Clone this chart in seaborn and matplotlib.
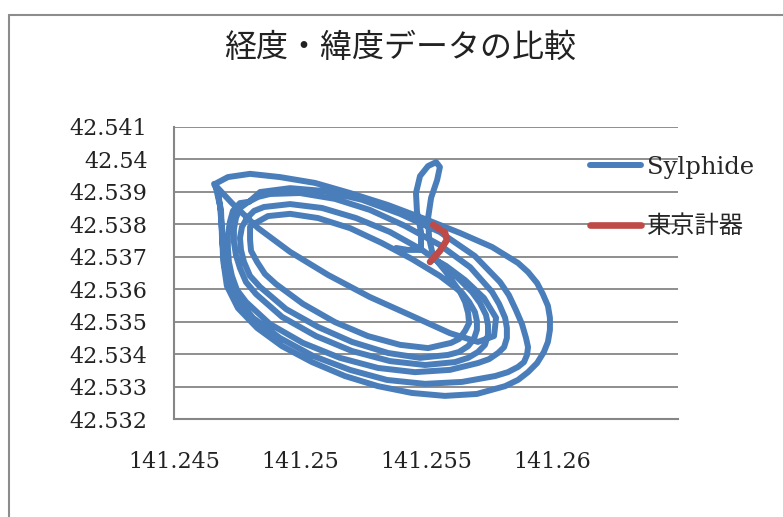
import matplotlib
matplotlib.use("Agg")
import matplotlib.pyplot as plt
from matplotlib.lines import Line2D
import seaborn as sns
import pandas as pd

# GPS track logged by Sylphide (longitude / latitude, in logging order)
sylphide_lon = [
    # start and the narrow excursion to the north
    141.25382, 141.25429, 141.25481, 141.25481, 141.25465, 141.25461, 141.25477, 141.25509,
    141.25541, 141.25556, 141.25545, 141.25521, 141.25509, 141.25513, 141.25529,
    # first lap
    141.25580, 141.25636, 141.25656, 141.25668, 141.25672, 141.25656, 141.25632, 141.25600,
    141.25509, 141.25398, 141.25270, 141.25139, 141.25012, 141.24905, 141.24861, 141.24830,
    141.24806, 141.24802, 141.24802, 141.24818, 141.24873, 141.24961, 141.25072, 141.25199,
    141.25326, 141.25445, 141.25556,
    # second lap
    141.25644, 141.25672, 141.25695, 141.25703, 141.25703, 141.25691, 141.25668, 141.25632,
    141.25588, 141.25477, 141.25350, 141.25207, 141.25072, 141.24945, 141.24842, 141.24802,
    141.24778, 141.24766, 141.24762, 141.24770, 141.24790, 141.24818, 141.24857, 141.24961,
    141.25088, 141.25223, 141.25358, 141.25485, 141.25596,
    # third lap
    141.25683, 141.25715, 141.25739, 141.25747, 141.25747, 141.25735, 141.25707, 141.25668,
    141.25616, 141.25497, 141.25358, 141.25207, 141.25064, 141.24929, 141.24826, 141.24786,
    141.24762, 141.24746, 141.24738, 141.24738, 141.24746, 141.24762, 141.24794, 141.24834,
    141.24881, 141.25000, 141.25139, 141.25278, 141.25417, 141.25556, 141.25676,
    # fourth lap
    141.25763, 141.25791, 141.25815, 141.25822, 141.25822, 141.25811, 141.25787, 141.25751,
    141.25707, 141.25596, 141.25457, 141.25310, 141.25159, 141.25012, 141.24881, 141.24786,
    141.24750, 141.24730, 141.24718, 141.24714, 141.24714, 141.24722, 141.24734, 141.24762,
    141.24798, 141.24842, 141.24961, 141.25100, 141.25247, 141.25398, 141.25556, 141.25695,
    # fifth lap
    141.25795, 141.25830, 141.25858, 141.25882, 141.25898, 141.25906, 141.25902, 141.25890,
    141.25866, 141.25826, 141.25775, 141.25644, 141.25497, 141.25346, 141.25199, 141.25052,
    141.24921, 141.24814, 141.24742, 141.24703, 141.24691, 141.24687, 141.24675, 141.24663,
    # widest lap
    141.24714, 141.24802, 141.24921, 141.25060, 141.25199, 141.25350, 141.25497, 141.25636,
    141.25763, 141.25866, 141.25906, 141.25942, 141.25965, 141.25985, 141.25993, 141.25993,
    141.25985, 141.25969, 141.25942, 141.25906, 141.25866, 141.25815, 141.25703, 141.25576,
    141.25445, 141.25310, 141.25179, 141.25048, 141.24929, 141.24830, 141.24754, 141.24710,
    141.24695, 141.24691, 141.24683, 141.24667, 141.24659,
    # diagonal run back to the centre
    141.24730, 141.24834, 141.24961, 141.25112, 141.25278, 141.25445, 141.25596, 141.25707,
    141.25771, 141.25779, 141.25731, 141.25656, 141.25580, 141.25525,
]
sylphide_lat = [
    42.53727, 42.53721, 42.53721, 42.53776, 42.53838, 42.53896, 42.53948, 42.53979,
    42.53991, 42.53976, 42.53936, 42.53881, 42.53819, 42.53758, 42.53702,

    42.53653, 42.53592, 42.53561, 42.53527, 42.53496, 42.53472, 42.53447, 42.53435,
    42.53419, 42.53429, 42.53456, 42.53499, 42.53555, 42.53616, 42.53647, 42.53684,
    42.53718, 42.53752, 42.53792, 42.53801, 42.53825, 42.53832, 42.53819, 42.53788,
    42.53742, 42.53693, 42.53641,

    42.53589, 42.53561, 42.53530, 42.53502, 42.53475, 42.53447, 42.53425, 42.53407,
    42.53398, 42.53389, 42.53404, 42.53438, 42.53484, 42.53539, 42.53607, 42.53641,
    42.53684, 42.53721, 42.53758, 42.53792, 42.53819, 42.53841, 42.53853, 42.53862,
    42.53850, 42.53819, 42.53776, 42.53721, 42.53659,

    42.53592, 42.53558, 42.53521, 42.53490, 42.53459, 42.53429, 42.53407, 42.53389,
    42.53376, 42.53367, 42.53379, 42.53410, 42.53456, 42.53515, 42.53585, 42.53622,
    42.53665, 42.53705, 42.53745, 42.53785, 42.53819, 42.53850, 42.53868, 42.53884,
    42.53893, 42.53896, 42.53878, 42.53844, 42.53795, 42.53736, 42.53668,

    42.53592, 42.53555, 42.53512, 42.53481, 42.53450, 42.53422, 42.53404, 42.53385,
    42.53373, 42.53352, 42.53345, 42.53358, 42.53389, 42.53435, 42.53493, 42.53561,
    42.53598, 42.53641, 42.53684, 42.53727, 42.53767, 42.53807, 42.53841, 42.53865,
    42.53869, 42.53899, 42.53911, 42.53902, 42.53875, 42.53832, 42.53776, 42.53702,

    42.53622, 42.53582, 42.53536, 42.53493, 42.53450, 42.53422, 42.53398, 42.53376,
    42.53361, 42.53345, 42.53333, 42.53315, 42.53309, 42.53321, 42.53352, 42.53395,
    42.53450, 42.53512, 42.53579, 42.53659, 42.53752, 42.53838, 42.53896, 42.53924,

    42.53945, 42.53955, 42.53945, 42.53927, 42.53896, 42.53859, 42.53816, 42.53773,
    42.53730, 42.53681, 42.53653, 42.53619, 42.53585, 42.53549, 42.53512, 42.53475,
    42.53438, 42.53407, 42.53373, 42.53345, 42.53321, 42.53302, 42.53278, 42.53272,
    42.53281, 42.53302, 42.53333, 42.53376, 42.53425, 42.53481, 42.53542, 42.53610,
    42.53690, 42.53776, 42.53856, 42.53911, 42.53924,

    42.53865, 42.53788, 42.53715, 42.53644, 42.53576, 42.53518, 42.53465, 42.53438,
    42.53456, 42.53512, 42.53573, 42.53628, 42.53672, 42.53696,
]

# Track logged by the Tokyo Keiki receiver
tokyo_keiki_lon = [141.25529, 141.25576, 141.25584, 141.25556, 141.25517]
tokyo_keiki_lat = [42.53798, 42.53774, 42.53752, 42.53718, 42.53684]

series_names = ["Sylphide", "東京計器"]
series_colors = ["#4A7EBB", "#BE4B48"]

x_ticks = [141.245, 141.25, 141.255, 141.26]
x_tick_labels = ["141.245", "141.25", "141.255", "141.26"]
y_ticks = [42.532, 42.533, 42.534, 42.535, 42.536, 42.537, 42.538, 42.539, 42.54, 42.541]
y_tick_labels = ["42.532", "42.533", "42.534", "42.535", "42.536",
                 "42.537", "42.538", "42.539", "42.54", "42.541"]
chart_title = "経度・緯度データの比較"

sns.set_theme(style="white")
plt.rcParams["font.family"] = ["DejaVu Serif", "Noto Sans CJK JP"]

frames = []
for name, lon, lat in [(series_names[0], sylphide_lon, sylphide_lat),
                       (series_names[1], tokyo_keiki_lon, tokyo_keiki_lat)]:
    frames.append(pd.DataFrame({"lon": lon, "lat": lat, "series": name}))
df = pd.concat(frames, ignore_index=True)

W, H = 783, 517
fig = plt.figure(figsize=(W / 100, H / 100), dpi=100)
fig.patch.set_facecolor("white")

left, right, top, bottom = 174, 677.6, 126.7, 419.3
ax = fig.add_axes([left / W, 1 - bottom / H, (right - left) / W, (bottom - top) / H])

sns.lineplot(data=df, x="lon", y="lat", hue="series", hue_order=series_names,
             palette=series_colors, sort=False, estimator=None, units="series",
             linewidth=4.3, solid_capstyle="round", solid_joinstyle="round",
             ax=ax)
# receiver track on top of the Sylphide loops, slightly heavier
for line in ax.lines:
    if matplotlib.colors.to_hex(line.get_color()).lower() == series_colors[1].lower():
        line.set_zorder(5)
        line.set_linewidth(4.8)

ax.set_xlim(141.245, 141.265)
ax.set_ylim(42.532, 42.541)
ax.set_xticks(x_ticks)
ax.set_xticklabels(x_tick_labels)
ax.set_yticks(y_ticks)
ax.set_yticklabels(y_tick_labels)
ax.set_xlabel("")
ax.set_ylabel("")

axis_grey = "#868686"
ax.yaxis.grid(True, color=axis_grey, linewidth=1.3)
ax.xaxis.grid(False)
ax.set_axisbelow(True)
for side in ["top", "right"]:
    ax.spines[side].set_visible(False)
for side in ["left", "bottom"]:
    ax.spines[side].set_color(axis_grey)
    ax.spines[side].set_linewidth(1.5)
ax.tick_params(axis="y", direction="out", length=5.5, width=1.1, color=axis_grey,
               pad=13.5, labelsize=16, labelcolor="#222222")
ax.tick_params(axis="x", direction="out", length=5.5, width=1.1, color=axis_grey,
               pad=17, labelsize=16, labelcolor="#222222")

handles, labels = ax.get_legend_handles_labels()
ax.get_legend().remove()
fig.legend(handles, labels, loc="center left",
           bbox_to_anchor=(590 / W, 1 - 197 / H),
           frameon=False, borderpad=0, borderaxespad=0,
           handlelength=2.1, handletextpad=0.25, labelspacing=1.5,
           prop={"family": ["DejaVu Serif", "Noto Sans CJK JP"], "size": 17.5})

fig.text(400 / W, 1 - 48 / H, chart_title, ha="center", va="center",
         fontsize=23, family=["Noto Sans CJK JP"], color="#222222")

# outer chart frame
fig.add_artist(Line2D([9 / W, 9 / W], [0, 1 - 15 / H], transform=fig.transFigure,
                      color="#8c8c8c", linewidth=1.5))
fig.add_artist(Line2D([9 / W, 1], [1 - 15 / H, 1 - 15 / H], transform=fig.transFigure,
                      color="#8c8c8c", linewidth=1.5))

fig.savefig("out.png", dpi=100, facecolor="white")
